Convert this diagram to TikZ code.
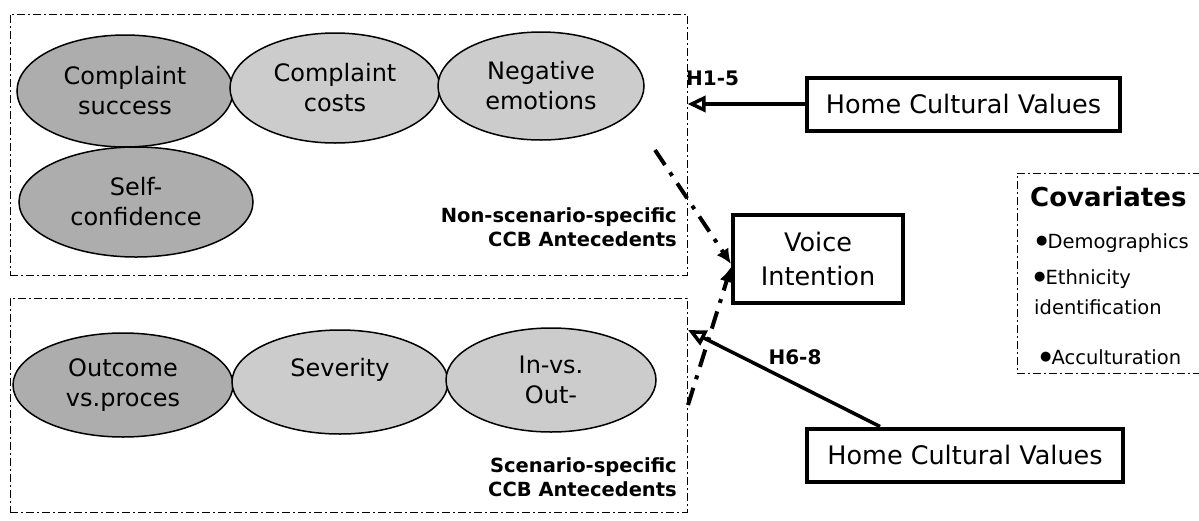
\documentclass[tikz,border=0pt]{standalone}
\usepackage{fontspec}
\setmainfont{DejaVu Sans}
\usetikzlibrary{arrows.meta, shapes.geometric}

\definecolor{ovaldark}{gray}{0.68}
\definecolor{ovallight}{gray}{0.80}

\newcommand{\covbullet}{{\fontsize{13}{13}\selectfont\raisebox{0.6ex}{●}}}

\tikzset{
  antecedent/.style={ellipse, draw, line width=1.5pt, inner sep=0pt, align=center,
    font=\fontsize{24}{30}\selectfont},
  groupbox/.style={draw, line width=1pt, dash pattern=on 8pt off 3pt on 2pt off 3pt, inner sep=0pt},
  culturebox/.style={draw, line width=4pt, minimum height=53pt, inner sep=0pt,
    font=\fontsize{25.5}{34}\selectfont},
  hypo/.style={inner sep=0pt, font=\bfseries\fontsize{20}{24}\selectfont},
  grouplabel/.style={inner sep=0pt, anchor=east, align=right,
    font=\bfseries\fontsize{19.5}{24}\selectfont},
  effect/.style={line width=3.5pt, -{Triangle[open, length=18pt, width=16pt]}},
  voicelink/.style={line width=4pt, dash pattern=on 18pt off 9pt on 4pt off 9pt,
    -{Latex[length=15pt, width=14pt]}},
  covitem/.style={inner sep=0pt, anchor=west, align=left, font=\fontsize{19.5}{30}\selectfont}
}

\begin{document}
\begin{tikzpicture}[x=1pt, y=-1pt]
	\useasboundingbox[fill=white] (0,0) rectangle (1199,520);

	% antecedent groups
	\node[groupbox, minimum width=677pt, minimum height=261pt] (nonspec) at (348.5,144.5) {};
	\node[groupbox, minimum width=677pt, minimum height=214pt] (spec) at (348.5,405) {};

	\node[antecedent, fill=ovaldark, minimum width=216pt, minimum height=112pt] (success) at (125,91) {Complaint\\success};
	\node[antecedent, fill=ovallight, minimum width=210pt, minimum height=110pt] (costs) at (335,88) {Complaint\\costs};
	\node[antecedent, fill=ovallight, minimum width=206pt, minimum height=108pt] (emotions) at (541,86) {Negative\\emotions};
	\node[antecedent, fill=ovaldark, minimum width=234pt, minimum height=110pt] (confidence) at (136,202) {Self-\\confidence};
	\node[grouplabel] (nonspeclabel) at (677,227) {Non-scenario-specific\\CCB Antecedents};

	\node[antecedent, fill=ovaldark, minimum width=220pt, minimum height=104pt] (process) at (123,385) {Outcome\\vs.proces};
	\node[antecedent, fill=ovallight, minimum width=216pt, minimum height=104pt] (severity) at (340,382) {Severity\\~};
	\node[antecedent, fill=ovallight, minimum width=210pt, minimum height=104pt] (inout) at (551,380) {In-vs.\\Out-};
	\node[grouplabel] (speclabel) at (677,477) {Scenario-specific\\CCB Antecedents};

	% cultural values and outcome
	\node[culturebox, minimum width=313pt] (home1) at (963.5,104) {Home Cultural Values};
	\node[culturebox, minimum width=316pt] (home2) at (965,455) {Home Cultural Values};
	\node[culturebox, minimum width=170pt, minimum height=88pt, align=center] (voice) at (818,259) {Voice\\Intention};

	\node[hypo, anchor=west] (h15) at (686,78) {H1-5};
	\node[hypo] (h68) at (795,357) {H6-8};

	\draw[effect] (home1.west) -- (home1.west -| nonspec.east);
	\coordinate (h68tip) at (688,330);
	\draw[effect] ([xshift=-85pt]home2.north) -- (h68tip);

	\coordinate (nonspecout) at (655,150);
	\coordinate (specout) at (688,405);
	\draw[voicelink] (nonspecout) -- ([yshift=-5pt]voice.west);
	\draw[voicelink] (specout) -- ([yshift=-8pt]voice.west);

	% covariates
	\node[groupbox, minimum width=200pt, minimum height=200pt] (covbox) at (1117,273) {};
	\node[inner sep=0pt, anchor=west, font=\bfseries\fontsize{26}{30}\selectfont] (covtitle) at (1030,197) {Covariates};
	\node[covitem] (demo) at (1036,243) {\covbullet Demographics};
	\node[covitem] (ethnic) at (1034,292) {\covbullet Ethnicity\\identification};
	\node[covitem] (accult) at (1040,357) {\covbullet Acculturation};
\end{tikzpicture}
\end{document}
